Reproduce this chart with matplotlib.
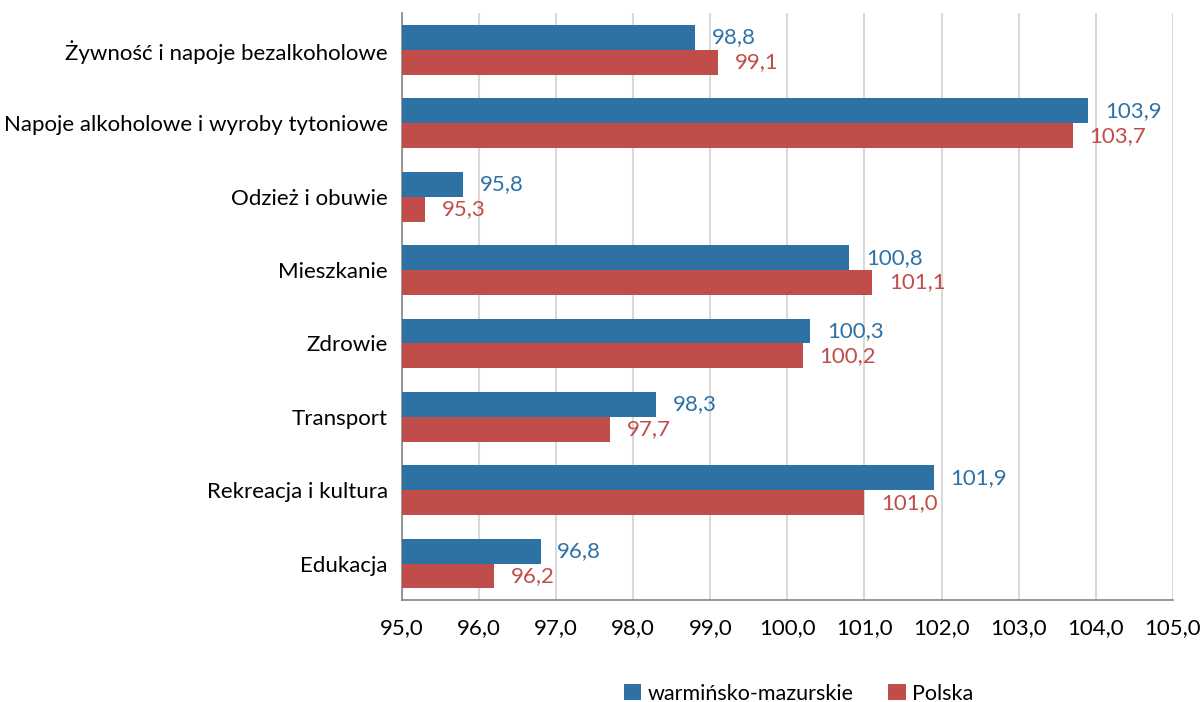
import numpy as np
import matplotlib.pyplot as plt

categories = ['Żywność i napoje bezalkoholowe', 'Napoje alkoholowe i wyroby tytoniowe',
              'Odzież i obuwie', 'Mieszkanie', 'Zdrowie', 'Transport',
              'Rekreacja i kultura', 'Edukacja']
warm_maz = [98.8, 103.9, 95.8, 100.8, 100.3, 98.3, 101.9, 96.8]
polska = [99.1, 103.7, 95.3, 101.1, 100.2, 97.7, 101.0, 96.2]
series_names = ['warmińsko-mazurskie', 'Polska']
xticks = np.arange(95, 106, 1)

blue = '#2E71A5'
red = '#C04D4A'

plt.rcParams['font.family'] = ['Lato', 'DejaVu Sans']

fig = plt.figure(figsize=(12.03, 7.02), dpi=100)
ax = fig.add_axes([0.334, 0.145, 0.641, 0.836])

y = np.arange(len(categories))
h = 0.34
base = 95
b1 = ax.barh(y - h / 2, np.array(warm_maz) - base, left=base, height=h, color=blue,
             label=series_names[0], zorder=3)
b2 = ax.barh(y + h / 2, np.array(polska) - base, left=base, height=h, color=red,
             label=series_names[1], zorder=3)

for bars, vals, c in [(b1, warm_maz, blue), (b2, polska, red)]:
    for rect, v in zip(bars, vals):
        ax.annotate(f'{v:.1f}'.replace('.', ','), (v, rect.get_y() + rect.get_height() / 2),
                    xytext=(12, 0), textcoords='offset points', va='center', ha='left',
                    fontsize=16, color=c)

ax.set_xlim(95, 105)
ax.set_ylim(len(categories) - 0.5, -0.5)
ax.set_xticks(xticks)
ax.set_xticklabels([f'{t:.1f}'.replace('.', ',') for t in xticks], fontsize=16)
ax.set_yticks(y)
ax.set_yticklabels(categories, fontsize=16)
ax.tick_params(axis='y', length=0, pad=10)
ax.tick_params(axis='x', length=0, pad=13)
ax.grid(axis='x', color='#D9D9D9', linewidth=1.5, zorder=0)
for s in ['top', 'right']:
    ax.spines[s].set_visible(False)
for s in ['left', 'bottom']:
    ax.spines[s].set_color('#868686')
    ax.spines[s].set_linewidth(1.2)

fig.legend(handles=[b1, b2], labels=series_names, loc='lower center',
           bbox_to_anchor=(0.664, -0.03), ncol=2, frameon=False, fontsize=15.5,
           handlelength=0.8, handleheight=0.8, handletextpad=0.3, columnspacing=1.6)

fig.savefig('out.png', dpi=100)
